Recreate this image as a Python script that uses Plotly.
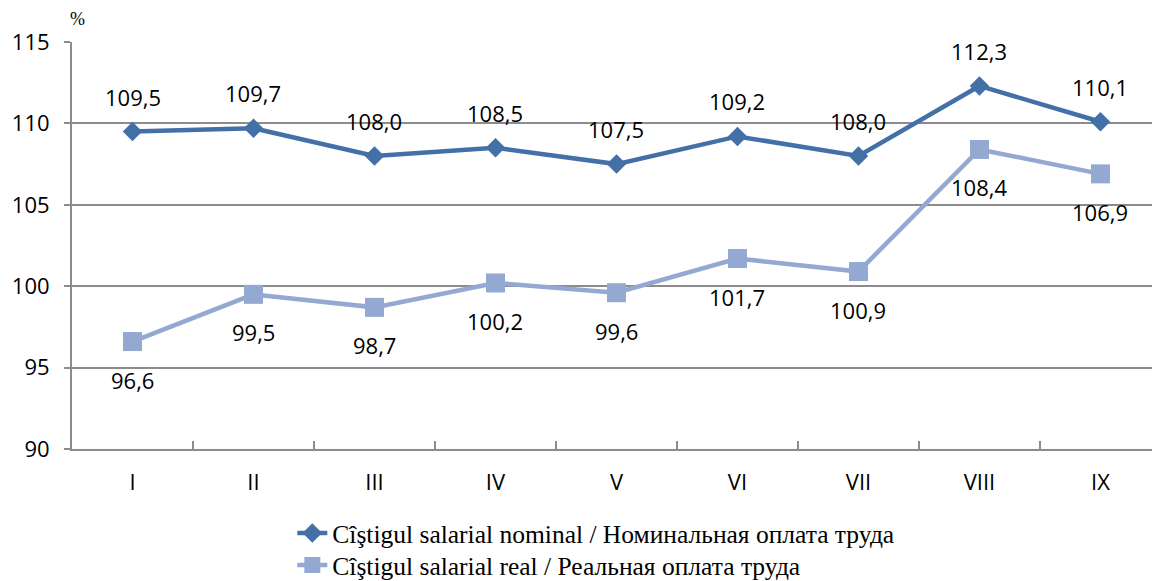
import plotly.graph_objects as go

months = ["I", "II", "III", "IV", "V", "VI", "VII", "VIII", "IX"]
nominal = [109.5, 109.7, 108.0, 108.5, 107.5, 109.2, 108.0, 112.3, 110.1]
real = [96.6, 99.5, 98.7, 100.2, 99.6, 101.7, 100.9, 108.4, 106.9]
name_nominal = "Cîştigul salarial nominal / Номинальная оплата труда"
name_real = "Cîştigul salarial real / Реальная оплата труда"

c_nom = "#4470A8"
c_real = "#93A9D1"
lab_font = dict(family="Open Sans", size=22, color="black")
leg_font = dict(family="Liberation Serif", size=25.5, color="black")

def fmt(v):
    return f"{v:.1f}".replace(".", ",")

fig = go.Figure()
fig.add_trace(go.Scatter(x=months, y=nominal, mode="lines+markers", name=name_nominal,
                         line=dict(color=c_nom, width=4.5), legend="legend",
                         marker=dict(symbol="diamond", size=15, color=c_nom)))
fig.add_trace(go.Scatter(x=months, y=real, mode="lines+markers", name=name_real,
                         line=dict(color=c_real, width=4.5), legend="legend2",
                         marker=dict(symbol="square", size=19, color=c_real)))

annotations = []
for m, v in zip(months, nominal):
    annotations.append(dict(x=m, y=v, text=fmt(v), showarrow=False, yshift=35, font=lab_font))
for m, v in zip(months, real):
    annotations.append(dict(x=m, y=v, text=fmt(v), showarrow=False, yshift=-38, font=lab_font))
annotations.append(dict(xref="paper", yref="paper", x=0.0, y=1.0, xanchor="center", yanchor="bottom",
                        text="%", showarrow=False, yshift=11, xshift=5,
                        font=dict(family="Liberation Serif", size=18, color="black")))

fig.update_layout(
    width=1152, height=581,
    margin=dict(l=72, r=0, t=42, b=132),
    paper_bgcolor="white", plot_bgcolor="white",
    showlegend=True,
    legend=dict(x=0.204, y=1 - 510 / 581, xanchor="left", yanchor="top", yref="container",
                font=leg_font, bgcolor="rgba(0,0,0,0)"),
    legend2=dict(x=0.204, y=1 - 542 / 581, xanchor="left", yanchor="top", yref="container",
                 font=leg_font, bgcolor="rgba(0,0,0,0)"),
    annotations=annotations,
    xaxis=dict(range=[-0.5, 8.426], showgrid=False, showline=True, linecolor="#8C8C8C", linewidth=2,
               ticks="inside", tickson="boundaries", ticklen=8, tickcolor="#8C8C8C", tickwidth=2,
               tickfont=dict(family="Open Sans", size=22, color="black"), automargin=False,
               ticklabelstandoff=13),
    yaxis=dict(range=[90, 115], dtick=5, showgrid=True, gridcolor="#8C8C8C", gridwidth=2,
               showline=True, linecolor="#8C8C8C", linewidth=2, zeroline=False,
               ticks="outside", ticklen=6, tickcolor="#8C8C8C", tickwidth=2,
               tickfont=dict(family="Open Sans", size=22, color="black"), automargin=False,
               ticklabelstandoff=10),
)

fig.write_html("out.html", config={"displayModeBar": False},
               post_script="document.body.style.margin='0';")
